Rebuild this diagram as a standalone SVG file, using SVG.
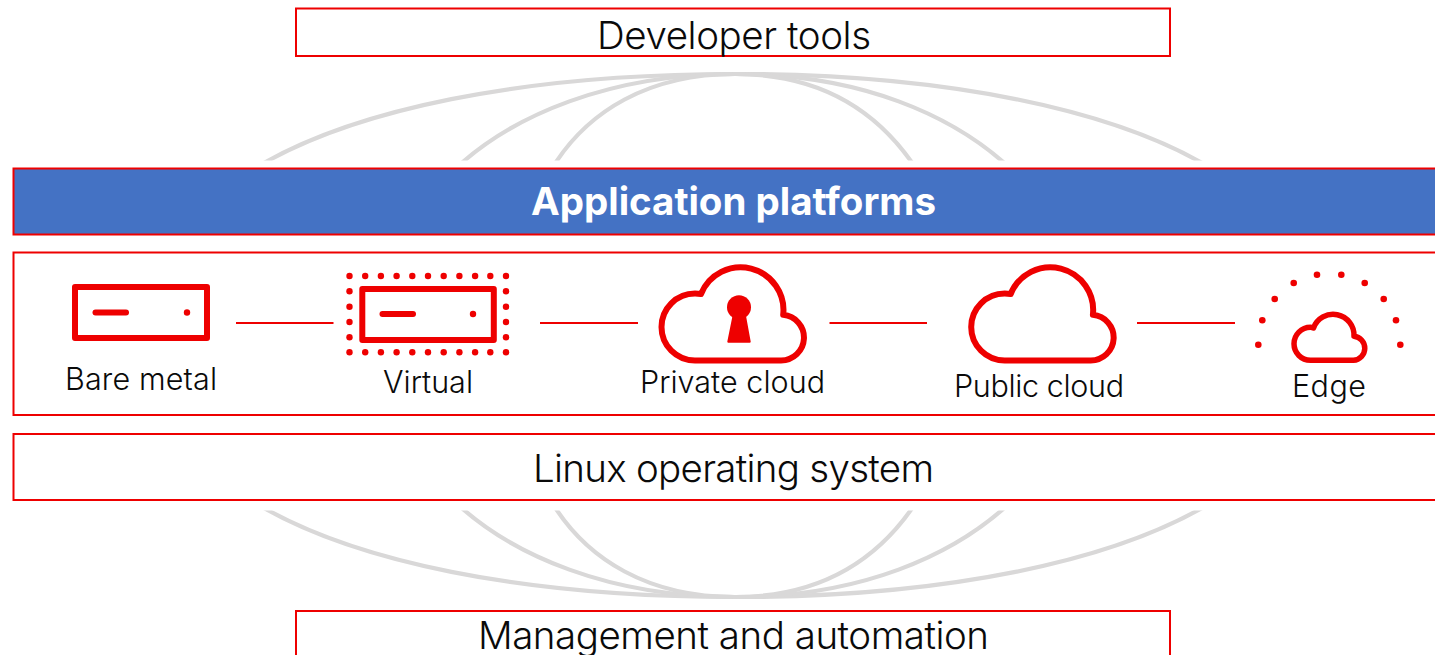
<svg xmlns="http://www.w3.org/2000/svg" width="1435" height="655" viewBox="0 0 1435 655">
<style>
.box{fill:#fff;stroke:#ee0000;stroke-width:2}
.t{font-family:"Inter","Liberation Sans",sans-serif;font-weight:300;fill:#0a0a0a;text-anchor:start;font-variant-ligatures:none}
.l{font-size:38.5px}
.s{font-size:30.5px}
.ic{fill:none;stroke:#ee0000;stroke-width:6;stroke-linejoin:round;stroke-linecap:round}
.d{fill:#ee0000}
.c{fill:none;stroke:#ee0000;stroke-width:2}
.a{fill:none;stroke:#d9d8d8;stroke-width:4.2}
</style>
<defs>
<clipPath id="ct"><rect x="0" y="60" width="1435" height="100.5"/></clipPath>
<path id="cloud" d="M695,360.5A33.5,33.5 0 0 1 695,293.5Q698,293.5 701,294A42.8,42.8 0 0 1 783.2,314.8A22.9,22.9 0 0 1 781,360.5Z"/>
<g id="arcs"><path d="M257,167C353,110 520,74 735,74C947,74 1113,110 1209,167"/><path d="M454,170C512,115 610,74 735,74C860,74 954,115 1012,170"/><path d="M551,170C587,110 650,74 735,74C820,74 878,110 917,170"/></g>
</defs>
<rect width="1435" height="655" fill="#fff"/>
<g id="arcs-group" class="a">
<g clip-path="url(#ct)"><use href="#arcs"/></g>
<g transform="matrix(1 0 0 -1 0 671)"><g clip-path="url(#ct)"><use href="#arcs"/></g></g>
</g>
<g id="developer-tools"><rect class="box" x="296" y="8.5" width="874" height="47.5"/><text class="t l" x="597" y="49" textLength="274">Developer tools</text></g>
<g id="application-platforms"><rect x="13.5" y="168.5" width="1430" height="66" fill="#4472c4" stroke="#ee0000" stroke-width="2"/><text class="t l" x="531" y="215" textLength="405" style="font-weight:700;fill:#fff">Application platforms</text></g>
<rect id="environments" class="box" x="13.5" y="252.5" width="1430" height="162.5"/>
<g id="connectors" class="c"><path d="M236,323H333.5M540,323H638M829.5,323H927M1137,323H1235"/></g>
<g id="bare-metal"><rect class="ic" x="75" y="287" width="132" height="51"/><path class="ic" d="M95.5,312.5H126"/><circle class="d" cx="187" cy="312.5" r="3.2"/><text class="t s" x="65" y="390" textLength="152">Bare metal</text></g>
<g id="virtual"><rect class="ic" x="362.3" y="289" width="131.5" height="51"/><path class="ic" d="M382.5,314H413"/><circle class="d" cx="473" cy="314" r="3.2"/>
<g class="d"><circle cx="349.5" cy="276" r="3.2"/><circle cx="365.2" cy="276" r="3.2"/><circle cx="380.9" cy="276" r="3.2"/><circle cx="396.6" cy="276" r="3.2"/><circle cx="412.3" cy="276" r="3.2"/><circle cx="428" cy="276" r="3.2"/><circle cx="443.7" cy="276" r="3.2"/><circle cx="459.4" cy="276" r="3.2"/><circle cx="475.1" cy="276" r="3.2"/><circle cx="490.3" cy="276" r="3.2"/><circle cx="506" cy="276" r="3.2"/>
<circle cx="349.5" cy="352.3" r="3.2"/><circle cx="365.2" cy="352.3" r="3.2"/><circle cx="380.9" cy="352.3" r="3.2"/><circle cx="396.6" cy="352.3" r="3.2"/><circle cx="412.3" cy="352.3" r="3.2"/><circle cx="428" cy="352.3" r="3.2"/><circle cx="443.7" cy="352.3" r="3.2"/><circle cx="459.4" cy="352.3" r="3.2"/><circle cx="475.1" cy="352.3" r="3.2"/><circle cx="490.3" cy="352.3" r="3.2"/><circle cx="506" cy="352.3" r="3.2"/>
<circle cx="349.5" cy="291.3" r="3.2"/><circle cx="349.5" cy="306.7" r="3.2"/><circle cx="349.5" cy="322" r="3.2"/><circle cx="349.5" cy="337.3" r="3.2"/>
<circle cx="506" cy="291.3" r="3.2"/><circle cx="506" cy="306.7" r="3.2"/><circle cx="506" cy="322" r="3.2"/><circle cx="506" cy="337.3" r="3.2"/></g>
<text class="t s" x="383" y="393" textLength="90">Virtual</text></g>
<g id="private-cloud"><use href="#cloud" class="ic"/><circle class="d" cx="739" cy="307.3" r="12"/><path class="d" stroke="#ee0000" stroke-width="2" stroke-linejoin="round" d="M733.5,316L728.3,341.7H749.7L745,316Z"/><text class="t s" x="640" y="393" textLength="185">Private cloud</text></g>
<g id="public-cloud"><use href="#cloud" class="ic" x="309.7"/><text class="t s" x="954" y="397" textLength="170">Public cloud</text></g>
<g id="edge"><path class="ic" style="stroke-width:5.5" d="M1310.5,360.3A16.5,16.5 0 0 1 1310.5,327.3Q1312,327.3 1313.5,328A20.9,20.9 0 0 1 1354,336.2A12.1,12.1 0 0 1 1353.5,360.3Z"/>
<g class="d"><circle cx="1258.3" cy="344.7" r="3.3"/><circle cx="1262.3" cy="320.3" r="3.3"/><circle cx="1274.7" cy="299" r="3.3"/><circle cx="1293.7" cy="283" r="3.3"/><circle cx="1317" cy="274.7" r="3.3"/><circle cx="1341.3" cy="274.7" r="3.3"/><circle cx="1364.7" cy="283" r="3.3"/><circle cx="1383.7" cy="299" r="3.3"/><circle cx="1396" cy="320.3" r="3.3"/><circle cx="1400.3" cy="344.7" r="3.3"/></g>
<text class="t s" x="1292" y="397" textLength="74">Edge</text></g>
<g id="linux"><rect class="box" x="13.5" y="434" width="1430" height="66"/><text class="t l" x="533" y="482" textLength="401">Linux operating system</text></g>
<g id="management"><rect class="box" x="296" y="611" width="874" height="60"/><text class="t l" x="478" y="649" textLength="511">Management and automation</text></g>
</svg>
